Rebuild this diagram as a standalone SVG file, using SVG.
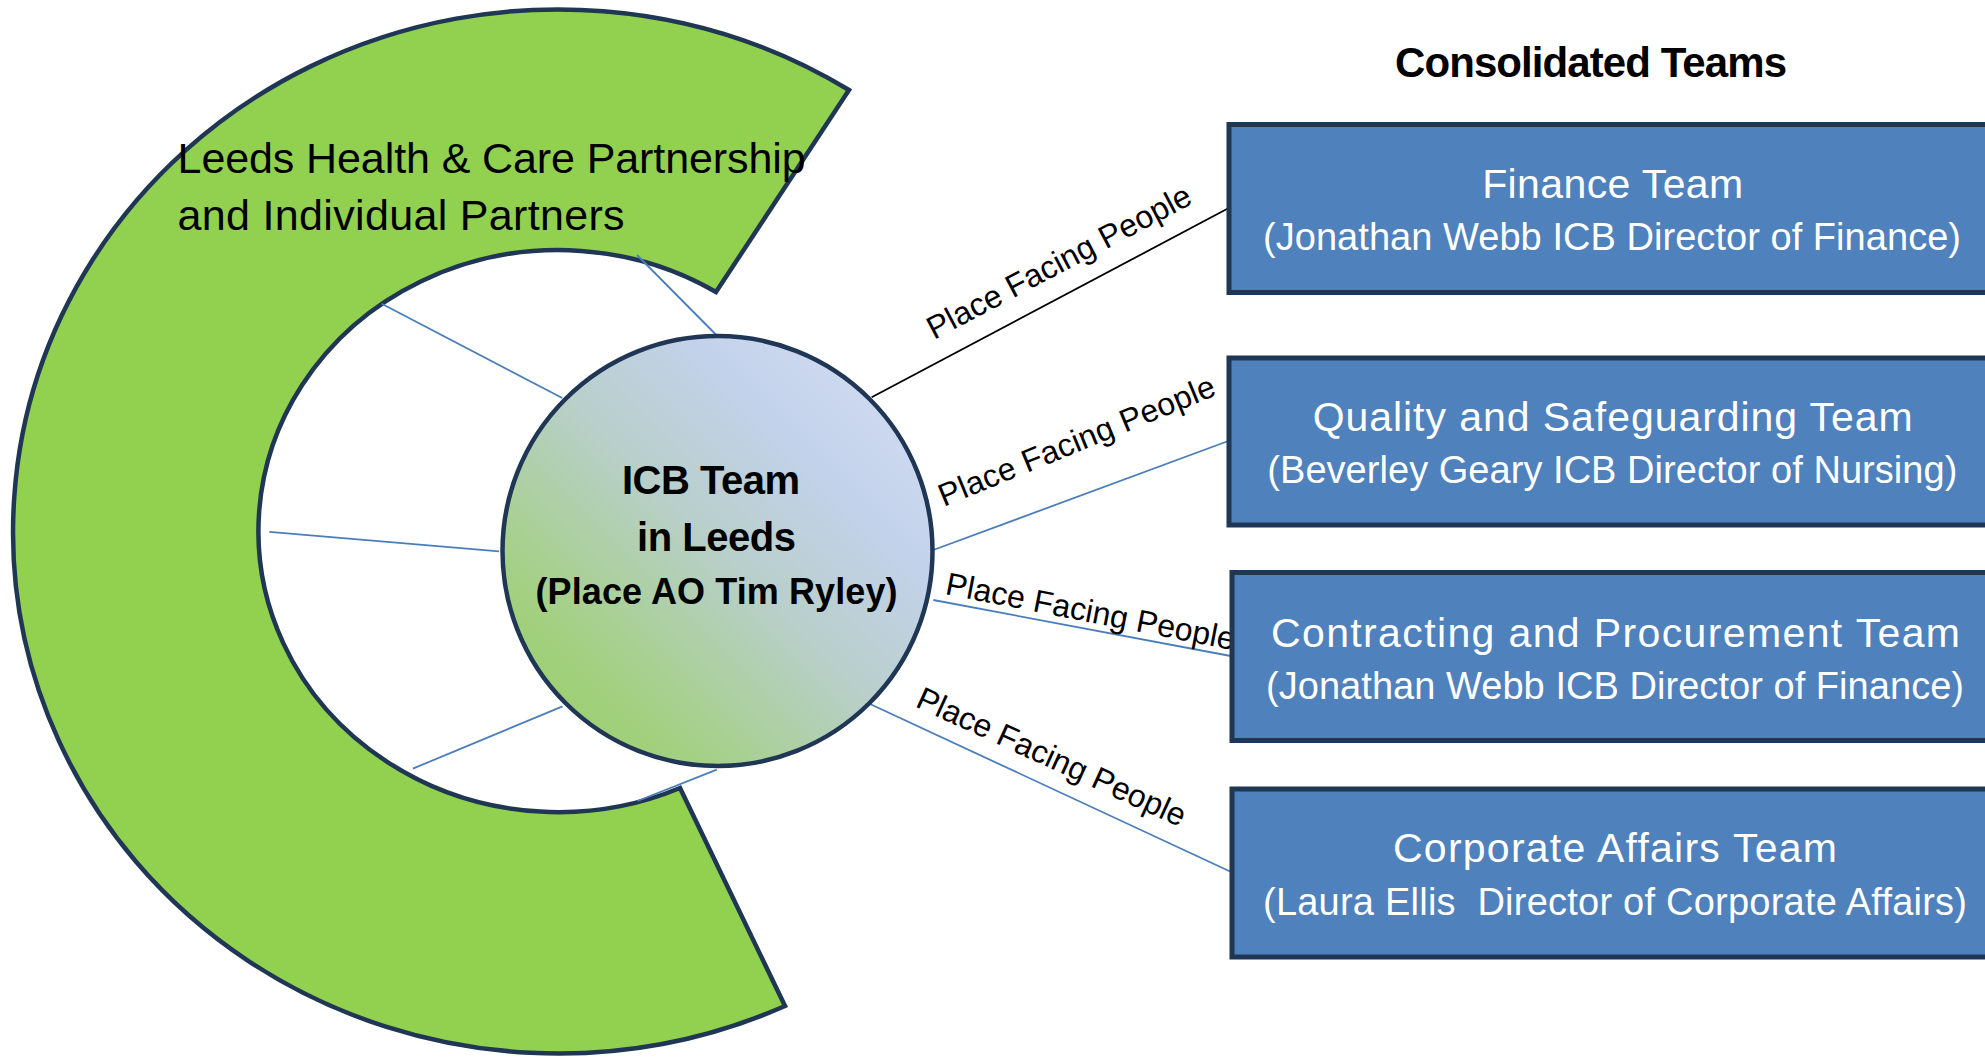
<svg xmlns="http://www.w3.org/2000/svg" width="1985" height="1057" viewBox="0 0 1985 1057">
  <defs>
    <linearGradient id="circleGrad" x1="0" y1="1" x2="1" y2="0">
      <stop offset="0" stop-color="#94CF5E"/>
      <stop offset="0.22" stop-color="#A3D081"/>
      <stop offset="0.5" stop-color="#B8CFC9"/>
      <stop offset="0.72" stop-color="#C3D2EB"/>
      <stop offset="1" stop-color="#D6E0F4"/>
    </linearGradient>
    <style>
      .ring { fill: #92D050; stroke: #1F3654; stroke-width: 4.5; stroke-linejoin: miter; }
      .hub { fill: url(#circleGrad); stroke: #1F3654; stroke-width: 4.5; }
      .box { fill: #4F81BD; stroke: #1F3654; stroke-width: 5; }
      .conn { fill: none; stroke: #4A7EBB; stroke-width: 1.8; }
      .conn-black { fill: none; stroke: #000000; stroke-width: 1.8; }
      .t { font-family: "Liberation Sans", Arial, sans-serif; }
      .ringtxt { font-size: 43px; fill: #000000; }
      .hubtxt { font-size: 40px; font-weight: bold; fill: #000000; text-anchor: middle; }
      .hubsub { font-size: 36px; font-weight: bold; fill: #000000; text-anchor: middle; }
      .title { font-size: 42px; font-weight: bold; fill: #000000; text-anchor: middle; }
      .boxtitle { font-size: 41px; fill: #FFFFFF; text-anchor: middle; }
      .boxsub { font-size: 38px; fill: #FFFFFF; text-anchor: middle; }
      .lbl { font-size: 32px; fill: #000000; text-anchor: middle; }
    </style>
  </defs>

  <rect x="0" y="0" width="1985" height="1057" fill="#FFFFFF"/>

  <g id="partnership-ring">
    <path class="ring" d="M 849,90 A 545 522 0 1 0 785,1006 L 680,788 A 300 281 0 1 1 716,292 Z"/>
    <text class="t ringtxt" x="177.6" y="173.3" textLength="628" lengthAdjust="spacing">Leeds Health &amp; Care Partnership</text>
    <text class="t ringtxt" x="177.6" y="230" textLength="447" lengthAdjust="spacing">and Individual Partners</text>
  </g>

  <g id="connectors">
    <line class="conn" x1="637" y1="255" x2="716.3" y2="335"/>
    <line class="conn" x1="381.7" y1="303.8" x2="562.3" y2="398"/>
    <line class="conn" x1="269.3" y1="531.9" x2="499.1" y2="551.3"/>
    <line class="conn" x1="412.9" y1="768.6" x2="562.5" y2="706.4"/>
    <line class="conn" x1="637.5" y1="801" x2="716.8" y2="769.6"/>
    <line class="conn-black" x1="871.7" y1="397.3" x2="1228.3" y2="208.3"/>
    <line class="conn" x1="933.3" y1="550" x2="1228.3" y2="441"/>
    <line class="conn" x1="933.3" y1="600" x2="1230.7" y2="656"/>
    <line class="conn" x1="870" y1="704" x2="1230.7" y2="871.7"/>
    <text class="t lbl" transform="translate(1064,271.4) rotate(-27.8)" x="0" y="0" textLength="294" lengthAdjust="spacing">Place Facing People</text>
    <text class="t lbl" transform="translate(1080.8,450.8) rotate(-22.3)" x="0" y="0" textLength="296" lengthAdjust="spacing">Place Facing People</text>
    <text class="t lbl" transform="translate(1088.5,622) rotate(11)" x="0" y="0" textLength="294" lengthAdjust="spacing">Place Facing People</text>
    <text class="t lbl" transform="translate(1047,766.7) rotate(24.5)" x="0" y="0" textLength="292" lengthAdjust="spacing">Place Facing People</text>
  </g>

  <g id="icb-team">
    <circle class="hub" cx="717.5" cy="551" r="215"/>
    <text class="t hubtxt" x="711" y="494" textLength="178" lengthAdjust="spacing">ICB Team</text>
    <text class="t hubtxt" x="716.5" y="551" textLength="159" lengthAdjust="spacing">in Leeds</text>
    <text class="t hubsub" x="716.5" y="604" textLength="362" lengthAdjust="spacing">(Place AO Tim Ryley)</text>
  </g>

  <g id="title">
    <text class="t title" x="1591" y="76.6" textLength="392" lengthAdjust="spacing">Consolidated Teams</text>
  </g>

  <g id="finance-team">
    <rect class="box" x="1229" y="124.5" width="800" height="168"/>
    <text class="t boxtitle" x="1612.7" y="197.6" textLength="261" lengthAdjust="spacing">Finance Team</text>
    <text class="t boxsub" x="1612" y="250" textLength="698" lengthAdjust="spacing">(Jonathan Webb ICB Director of Finance)</text>
  </g>

  <g id="quality-team">
    <rect class="box" x="1229" y="358" width="800" height="167"/>
    <text class="t boxtitle" x="1612.7" y="430.7" textLength="600" lengthAdjust="spacing">Quality and Safeguarding Team</text>
    <text class="t boxsub" x="1612.3" y="483" textLength="690" lengthAdjust="spacing">(Beverley Geary ICB Director of Nursing)</text>
  </g>

  <g id="contracting-team">
    <rect class="box" x="1232" y="572.5" width="800" height="168"/>
    <text class="t boxtitle" x="1615.5" y="647" textLength="689" lengthAdjust="spacing">Contracting and Procurement Team</text>
    <text class="t boxsub" x="1615" y="699" textLength="698" lengthAdjust="spacing">(Jonathan Webb ICB Director of Finance)</text>
  </g>

  <g id="corporate-team">
    <rect class="box" x="1232" y="789" width="800" height="168"/>
    <text class="t boxtitle" x="1615" y="862" textLength="444" lengthAdjust="spacing">Corporate Affairs Team</text>
    <text class="t boxsub" x="1615" y="915" textLength="704" lengthAdjust="spacing" xml:space="preserve">(Laura Ellis  Director of Corporate Affairs)</text>
  </g>
</svg>
